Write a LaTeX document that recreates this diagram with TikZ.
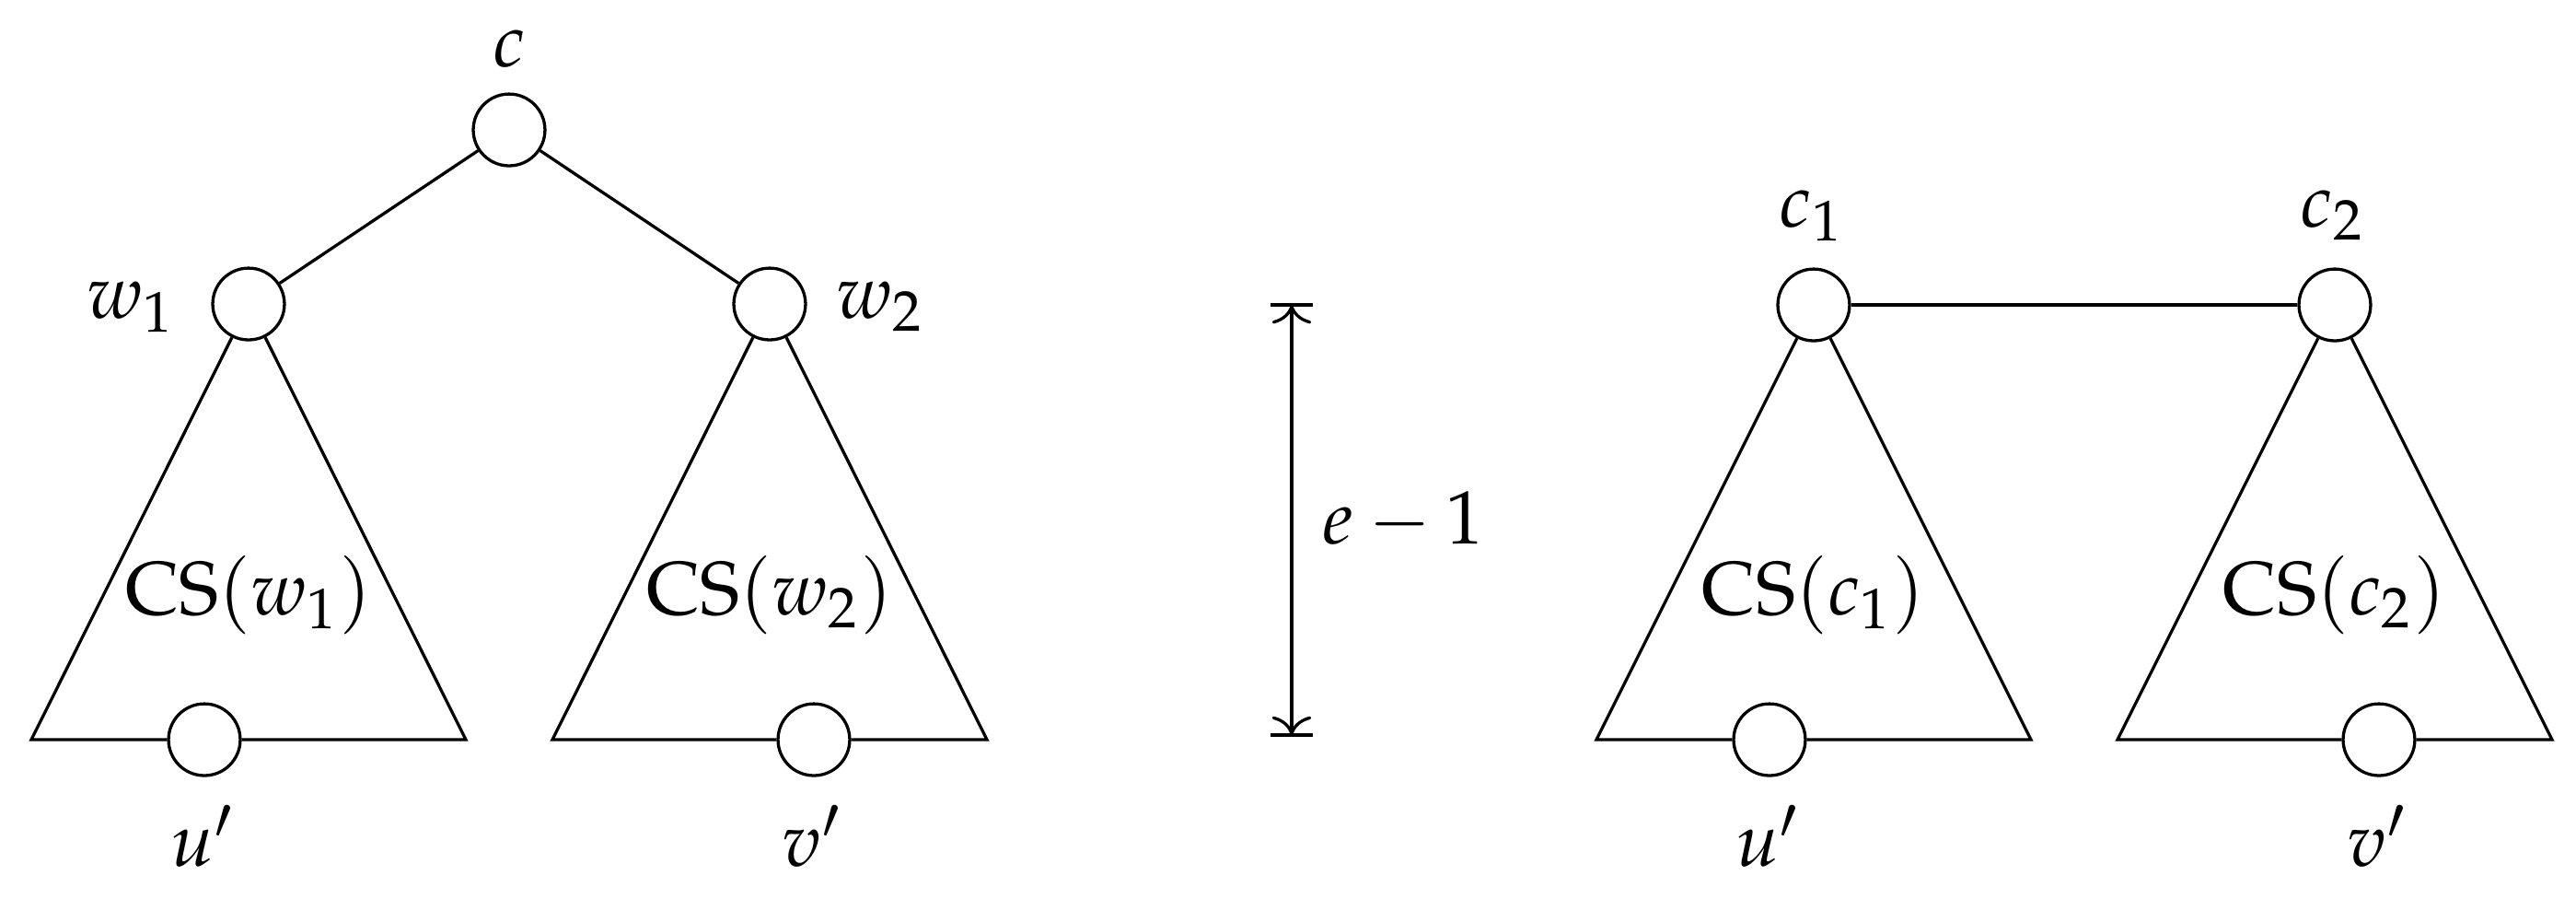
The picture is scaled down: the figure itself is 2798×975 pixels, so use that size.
\documentclass[tikz,border=0pt]{standalone}
\usepackage{mathpazo}
\usetikzlibrary{arrows.meta}
\begin{document}
\begin{tikzpicture}[x=0.12195pt,y=-0.12195pt,
  vert/.style={draw,circle,inner sep=0pt,minimum size=9.5pt,line width=0.4pt},
  lbl/.style={inner sep=0pt},
  edge/.style={line width=0.4pt,line join=miter}]
\useasboundingbox (0,0) rectangle (2798,975);
% ---------- left tree ----------
\node[vert] (c)  at (553,141) {};
\node[vert] (w1) at (270,330) {};
\node[vert] (w2) at (836,330) {};
\node[vert] (u1) at (222,803) {};
\node[vert] (v1) at (884,803) {};
\coordinate (bl1) at (34,803);
\coordinate (br1) at (506,803);
\coordinate (bl2) at (600,803);
\coordinate (br2) at (1072,803);
\draw[edge] (c) -- (w1);
\draw[edge] (c) -- (w2);
\draw[edge] (w1) -- (bl1) -- (u1) -- (br1) -- (w1);
\draw[edge] (w2) -- (bl2) -- (v1) -- (br2) -- (w2);
\node[lbl,anchor=base] (lc) at (553,72) {$c$};
\node[lbl,anchor=base east] (lw1) at (192,345) {$w_1$};
\node[lbl,anchor=base west] (lw2) at (907,345) {$w_2$};
\node[lbl,anchor=base] (lu1) at (221,940) {$u'$};
\node[lbl,anchor=base] (lv1) at (883,940) {$v'$};
\node[lbl,anchor=base] (cs1) at (270,667) {$\mathrm{CS}(w_1)$};
\node[lbl,anchor=base] (cs2) at (836,667) {$\mathrm{CS}(w_2)$};
% ---------- middle measure ----------
\coordinate (mt) at (1403,331);
\coordinate (mb) at (1403,798);
\draw[edge,<->] (mt) -- (mb);
\draw[line width=0.5pt] ([xshift=-2.85pt]mt) -- ([xshift=2.85pt]mt);
\draw[line width=0.5pt] ([xshift=-2.85pt]mb) -- ([xshift=2.85pt]mb);
\node[lbl,anchor=base west] (len) at (1435,590) {$e-1$};
% ---------- right pair ----------
\node[vert] (c1) at (1970,331) {};
\node[vert] (c2) at (2536,331) {};
\node[vert] (u2) at (1922,803) {};
\node[vert] (v2) at (2584,803) {};
\coordinate (bl3) at (1734,803);
\coordinate (br3) at (2206,803);
\coordinate (bl4) at (2300,803);
\coordinate (br4) at (2772,803);
\draw[edge] (c1) -- (c2);
\draw[edge] (c1) -- (bl3) -- (u2) -- (br3) -- (c1);
\draw[edge] (c2) -- (bl4) -- (v2) -- (br4) -- (c2);
\node[lbl,anchor=base] (lc1) at (1968,246) {$c_1$};
\node[lbl,anchor=base] (lc2) at (2534,246) {$c_2$};
\node[lbl,anchor=base] (lu2) at (1921,940) {$u'$};
\node[lbl,anchor=base] (lv2) at (2583,940) {$v'$};
\node[lbl,anchor=base] (cs3) at (1970,667) {$\mathrm{CS}(c_1)$};
\node[lbl,anchor=base] (cs4) at (2536,667) {$\mathrm{CS}(c_2)$};
\end{tikzpicture}
\end{document}
